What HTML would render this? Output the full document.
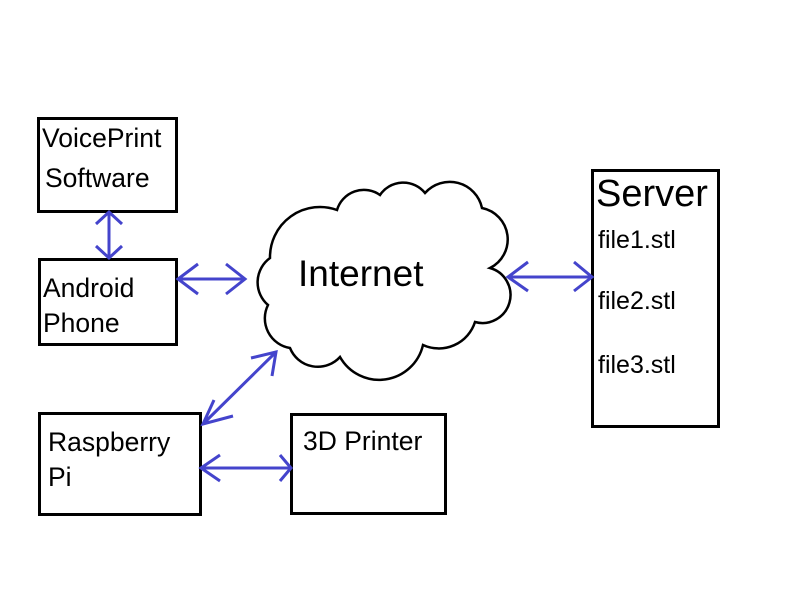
<!DOCTYPE html>
<html><head><style>body{margin:0;background:#fff}svg{display:block}text{font-family:"Liberation Sans",sans-serif;fill:#000}</style></head><body>
<svg width="800" height="600" viewBox="0 0 800 600">
<rect width="800" height="600" fill="#fff"/>
<g fill="none" stroke="#000" stroke-width="3">
<rect x="38.5" y="118.5" width="138" height="93"/>
<rect x="39.5" y="259.5" width="137" height="85"/>
<rect x="39.5" y="413.5" width="161" height="101"/>
<rect x="291.5" y="414.5" width="154" height="99"/>
<rect x="592.5" y="170.5" width="126" height="256"/>
</g>
<path fill="none" stroke="#000" stroke-width="2.5" d="M268,305 A30,30 0 0 1 270,258 A50,50 0 0 1 337,210 A28,28 0 0 1 380,195 A28,28 0 0 1 425,193 A33,33 0 0 1 482,208 A32,32 0 0 1 490,268 A26,26 0 0 1 475,322 A38,38 0 0 1 423,345 A45,45 0 0 1 340,357 A30,30 0 0 1 290,348 A30,30 0 0 1 268,305 Z"/>
<text x="298" y="286" font-size="37">Internet</text>
<g font-size="26.5">
<text x="42" y="147">VoicePrint</text><text x="45" y="187">Software</text>
<text x="43" y="297">Android</text><text x="43" y="332">Phone</text>
<text x="48" y="451">Raspberry</text><text x="48" y="486">Pi</text>
<text x="303" y="450">3D Printer</text>
</g>
<text x="596" y="206" font-size="38">Server</text>
<g font-size="25"><text x="598" y="248">file1.stl</text><text x="598" y="309">file2.stl</text><text x="598" y="373">file3.stl</text></g>
<g fill="none" stroke="#4444cc" stroke-width="3">
<path d="M109,212V258M96,224L109,212L122,224M96,246L109,258L122,246"/>
<path d="M178,279H245M198,264L178,279L198,294M226,264L245,279L226,294"/>
<path d="M508,277H592M528,262L508,277L528,291M574,262L592,277L574,291"/>
<path d="M203,424L276,352M214,400L203,424L233,416M251,358L276,352L272,376"/>
<path d="M201,468H291M220,455L201,468L220,481M280,455L291,468L280,481"/>
</g>
</svg>
</body></html>
